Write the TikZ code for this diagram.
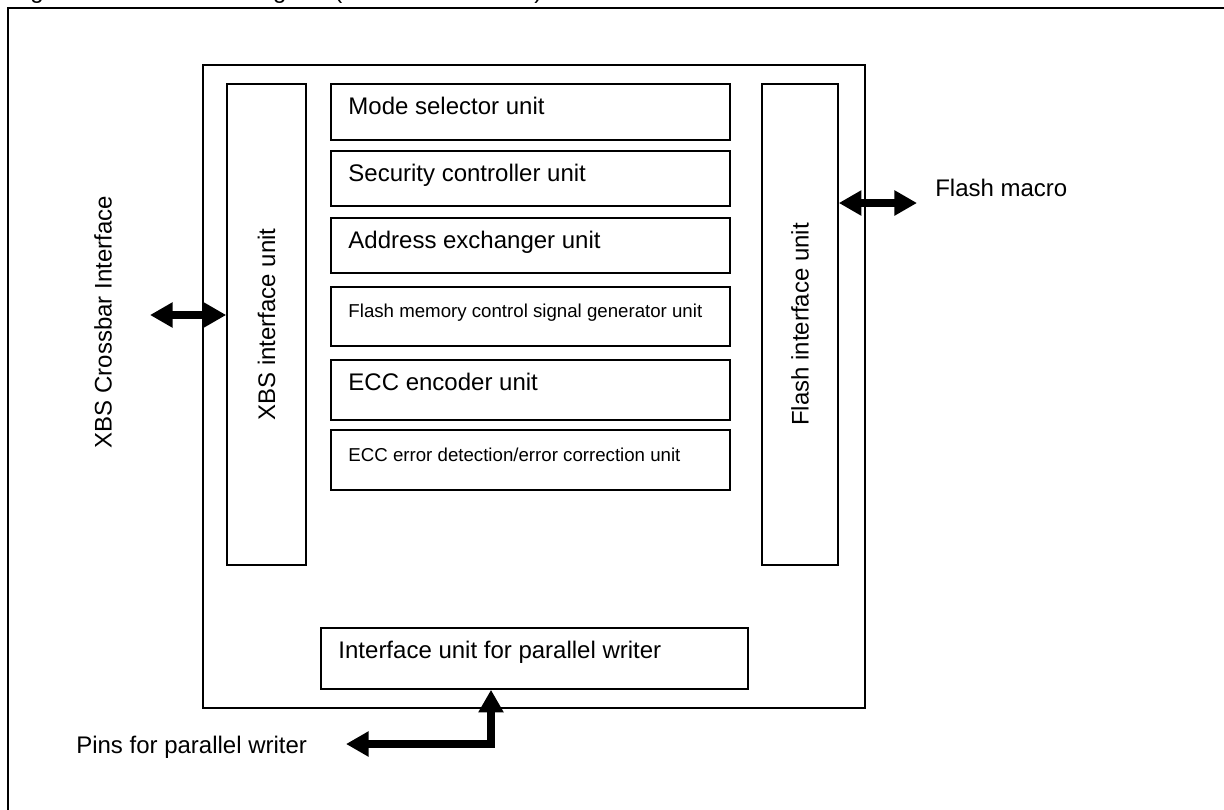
\documentclass[tikz,border=0pt]{standalone}
\usepackage{fontspec}
\setmainfont{Liberation Sans}
\usetikzlibrary{arrows.meta,fit,calc}
\begin{document}
\begin{tikzpicture}[x=0.75pt,y=-0.75pt,
  box/.style={draw,line width=1.2pt,inner sep=0pt},
  big/.style={font=\fontsize{18}{22}\selectfont,inner sep=0pt},
  small/.style={font=\fontsize{14}{17}\selectfont,inner sep=0pt},
  tipT/.tip={Triangle[length=17pt,width=18pt]},
  dbl/.style={line width=5.5pt,line join=miter,tipT-tipT}]
\useasboundingbox (0,0) rectangle (1224,810);
\clip (0,0) rectangle (1224,810);
% title (cut off at top)
\node[big,anchor=base west] (title) at (10,-1.5) {Figure 28.1.10 Block Diagram (Flash Control Unit)};
% outer frame
\draw[line width=1.5pt] (8,840) -- (8,8) -- (1240,8);
% main block
\node[box,fit={(203,65) (865,708)}] (main) {};
\node[box,fit={(227,84) (306,565)}] (xbs) {};
\node[box,fit={(762,84) (838,565)}] (fif) {};
\node[box,fit={(331,84) (730,140)}] (mode) {};
\node[box,fit={(331,151) (730,206)}] (sec) {};
\node[box,fit={(331,218) (730,273)}] (addr) {};
\node[box,fit={(331,287) (730,346)}] (fmc) {};
\node[box,fit={(331,360) (730,420)}] (eccenc) {};
\node[box,fit={(331,430) (730,490)}] (eccerr) {};
\node[box,fit={(321,628) (748,689)}] (piw) {};
% labels
\node[big,rotate=90] (xbst) at (xbs.center) {XBS interface unit};
\node[big,rotate=90] (fift) at (fif.center) {Flash interface unit};
\node[big,anchor=base west] (modet) at ($(mode.north west)+(18,31)$) {Mode selector unit};
\node[big,anchor=base west] (sect) at ($(sec.north west)+(18,31)$) {Security controller unit};
\node[big,anchor=base west] (addrt) at ($(addr.north west)+(18,31)$) {Address exchanger unit};
\node[small,anchor=base west] (fmct) at ($(fmc.north west)+(18,31)$) {Flash memory control signal generator unit};
\node[big,anchor=base west] (eccenct) at ($(eccenc.north west)+(18,31)$) {ECC encoder unit};
\node[small,anchor=base west] (eccerrt) at ($(eccerr.north west)+(18,32)$) {ECC error detection/error correction unit};
\node[big,anchor=base west] (piwt) at ($(piw.north west)+(18,31)$) {Interface unit for parallel writer};
% outside labels
\node[big,rotate=90] (xbsci) at (103,322) {XBS Crossbar Interface};
\node[big,anchor=base west] (fm) at (935,196) {Flash macro};
\node[big,anchor=base west] (pins) at (76,753) {Pins for parallel writer};
% connectors
\coordinate (xbsext) at (150,315);
\coordinate (fext) at (917,203);
\coordinate (pext) at (346,744);
\coordinate (pcorner) at (491,744);
\draw[dbl] (xbsext) -- (xbs.west |- xbsext);
\draw[dbl] (fif.east |- fext) -- (fext);
\draw[dbl] (pext) -- (pcorner) -- (piw.south -| pcorner);
\end{tikzpicture}
\end{document}
